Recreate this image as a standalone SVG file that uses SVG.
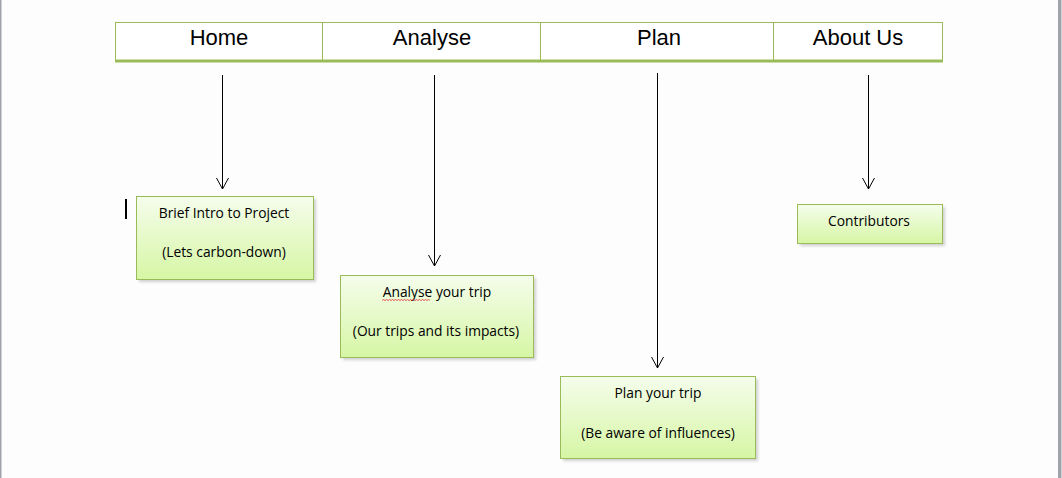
<svg xmlns="http://www.w3.org/2000/svg" width="1062" height="478" viewBox="0 0 1062 478">
<defs>
<style>
.hdr{font-family:"Liberation Sans",Arial,sans-serif;font-size:22px;fill:#000;text-anchor:middle}
.bx{fill:url(#g);stroke:#9bbb59;stroke-width:1}
.sh{fill:#000;opacity:0.18;filter:url(#blur)}
.t{font-family:"Open Sans","Liberation Sans",sans-serif;font-size:13.8px;fill:#000;text-anchor:middle}
.conn{stroke:#000;stroke-width:1;fill:none;marker-end:url(#arr)}
</style>
<linearGradient id="g" x1="0" y1="0" x2="0" y2="1">
<stop offset="0" stop-color="#f5fdec"/>
<stop offset="1" stop-color="#d6f6a4"/>
</linearGradient>
<filter id="blur" x="-10%" y="-10%" width="120%" height="130%"><feGaussianBlur stdDeviation="1.5"/></filter>
<marker id="arr" markerWidth="12" markerHeight="14" refX="11" refY="6" orient="auto" markerUnits="userSpaceOnUse">
<path d="M0,0 L11,6 L0,12" fill="none" stroke="#000" stroke-width="1"/>
</marker>
</defs>
<rect width="1062" height="478" fill="#fdfdfd"/>
<rect x="0" y="0" width="1.5" height="478" fill="#a0a4aa"/>
<rect x="1058" y="0" width="3.5" height="478" fill="#a0a4aa"/>

<g id="header">
<rect x="115.5" y="22.5" width="827" height="38" fill="#fff" stroke="#9bbb59" stroke-width="1"/>
<rect x="115" y="59.5" width="828" height="3" fill="#9bbb59"/>
<line x1="322.5" y1="22.5" x2="322.5" y2="60" stroke="#9bbb59"/>
<line x1="540.5" y1="22.5" x2="540.5" y2="60" stroke="#9bbb59"/>
<line x1="773.5" y1="22.5" x2="773.5" y2="60" stroke="#9bbb59"/>
<text class="hdr" x="219" y="45">Home</text>
<text class="hdr" x="432" y="45">Analyse</text>
<text class="hdr" x="659" y="45">Plan</text>
<text class="hdr" x="858" y="45">About Us</text>
</g>

<g id="connectors">
<line class="conn" x1="222.5" y1="75" x2="222.5" y2="189"/>
<line class="conn" x1="434.5" y1="75" x2="434.5" y2="266"/>
<line class="conn" x1="657.5" y1="73" x2="657.5" y2="368"/>
<line class="conn" x1="868.5" y1="75" x2="868.5" y2="189"/>
</g>

<rect x="125" y="199" width="2" height="20" fill="#000"/>

<g id="node-intro">
<rect class="sh" x="139" y="199" width="177" height="83"/>
<rect class="bx" x="136.5" y="196.5" width="177" height="83"/>
<text class="t" x="224" y="218">Brief Intro to Project</text>
<text class="t" x="224" y="257">(Lets carbon-down)</text>
</g>

<g id="node-analyse">
<rect class="sh" x="343" y="278" width="193" height="82"/>
<rect class="bx" x="340.5" y="275.5" width="193" height="82"/>
<text class="t" x="437" y="297">Analyse your trip</text>
<path d="M382,300.5 l1.5,-1 l1.5,1 l1.5,-1 l1.5,1 l1.5,-1 l1.5,1 l1.5,-1 l1.5,1 l1.5,-1 l1.5,1 l1.5,-1 l1.5,1 l1.5,-1 l1.5,1 l1.5,-1 l1.5,1 l1.5,-1 l1.5,1 l1.5,-1 l1.5,1 l1.5,-1 l1.5,1 l1.5,-1 l1.5,1 l1.5,-1 l1.5,1 l1.5,-1 l1.5,1 l1.5,-1 l1.5,1 l1.5,-1 l1.5,1" fill="none" stroke="#e03030" stroke-width="0.8"/>
<text class="t" x="436" y="336">(Our trips and its impacts)</text>
</g>

<g id="node-plan">
<rect class="sh" x="563" y="379" width="195" height="82"/>
<rect class="bx" x="560.5" y="376.5" width="195" height="82"/>
<text class="t" x="658" y="398">Plan your trip</text>
<text class="t" x="658" y="438">(Be aware of influences)</text>
</g>

<g id="node-contributors">
<rect class="sh" x="800" y="207" width="145" height="39"/>
<rect class="bx" x="797.5" y="204.5" width="145" height="39"/>
<text class="t" x="869" y="226">Contributors</text>
</g>
</svg>
